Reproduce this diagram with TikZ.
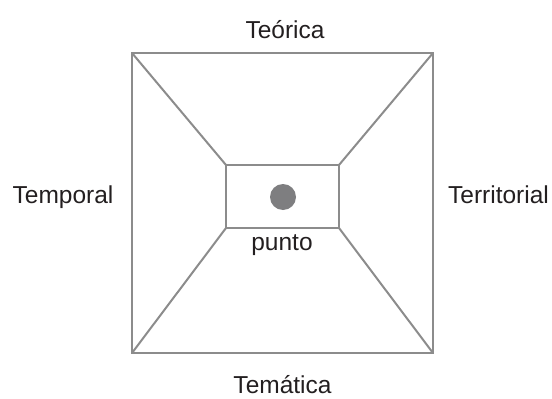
\documentclass[tikz,border=0pt]{standalone}
\usepackage{fontspec}
\setmainfont{Liberation Sans}
\begin{document}
\begin{tikzpicture}[x=1pt,y=-1pt,
  frame/.style={draw=linegray,line width=2pt},
  lbl/.style={anchor=base,inner sep=0pt,font=\fontsize{24.5}{29}\selectfont,text=textdark}]
\definecolor{linegray}{HTML}{8C8C8C}
\definecolor{dotgray}{HTML}{7E7E80}
\definecolor{textdark}{HTML}{231F20}
\useasboundingbox (0,0) rectangle (552,399);
% outer square corners
\coordinate (A) at (132,53);
\coordinate (B) at (433,53);
\coordinate (C) at (433,353);
\coordinate (D) at (132,353);
% inner rectangle corners
\coordinate (a) at (226,165);
\coordinate (b) at (339,165);
\coordinate (c) at (339,228);
\coordinate (d) at (226,228);
\draw[frame] (A) -- (B) -- (C) -- (D) -- cycle;
\draw[frame] (a) -- (b) -- (c) -- (d) -- cycle;
\draw[frame] (A) -- (a);
\draw[frame] (B) -- (b);
\draw[frame] (C) -- (c);
\draw[frame] (D) -- (d);
\node[circle,fill=dotgray,minimum size=26pt,inner sep=0pt] (dot) at (283,197) {};
\node[lbl] (teo) at (285,38) {Teórica};
\node[lbl] (tem) at (63,203) {Temporal};
\node[lbl] (ter) at (498.5,203) {Territorial};
\node[lbl] (tma) at (282.5,393) {Temática};
\node[lbl] (pun) at (282,250) {punto};
\end{tikzpicture}
\end{document}
